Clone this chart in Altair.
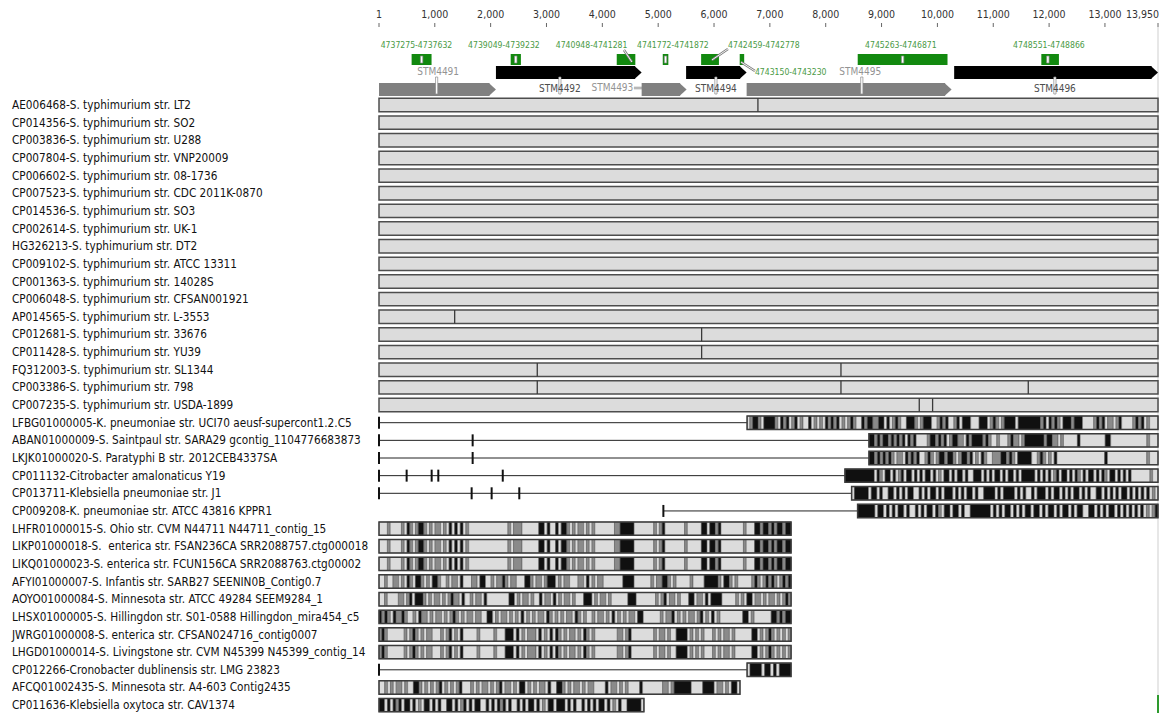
import altair as alt
import pandas as pd

FONT = "DejaVu Sans Condensed, Liberation Sans Narrow, sans-serif"

# ---------------- data ----------------
axis_ticks = [1, 1000, 2000, 3000, 4000, 5000, 6000, 7000, 8000, 9000, 10000, 11000, 12000, 13000]
axis_end = 13950
region_offset = 4736690  # genomic coordinate of position 0

labels = [
    "AE006468-S. typhimurium str. LT2",
    "CP014356-S. typhimurium str. SO2",
    "CP003836-S. typhimurium str. U288",
    "CP007804-S. typhimurium str. VNP20009",
    "CP006602-S. typhimurium str. 08-1736",
    "CP007523-S. typhimurium str. CDC 2011K-0870",
    "CP014536-S. typhimurium str. SO3",
    "CP002614-S. typhimurium str. UK-1",
    "HG326213-S. typhimurium str. DT2",
    "CP009102-S. typhimurium str. ATCC 13311",
    "CP001363-S. typhimurium str. 14028S",
    "CP006048-S. typhimurium str. CFSAN001921",
    "AP014565-S. typhimurium str. L-3553",
    "CP012681-S. typhimurium str. 33676",
    "CP011428-S. typhimurium str. YU39",
    "FQ312003-S. typhimurium str. SL1344",
    "CP003386-S. typhimurium str. 798",
    "CP007235-S. typhimurium str. USDA-1899",
    "LFBG01000005-K. pneumoniae str. UCI70 aeusf-supercont1.2.C5",
    "ABAN01000009-S. Saintpaul str. SARA29 gcontig_1104776683873",
    "LKJK01000020-S. Paratyphi B str. 2012CEB4337SA",
    "CP011132-Citrobacter amalonaticus Y19",
    "CP013711-Klebsiella pneumoniae str. J1",
    "CP009208-K. pneumoniae str. ATCC 43816 KPPR1",
    "LHFR01000015-S. Ohio str. CVM N44711 N44711_contig_15",
    "LIKP01000018-S.\u00a0 enterica str. FSAN236CA SRR2088757.ctg000018",
    "LIKQ01000023-S. enterica str. FCUN156CA SRR2088763.ctg00002",
    "AFYI01000007-S. Infantis str. SARB27 SEENIN0B_Contig0.7",
    "AOYO01000084-S. Minnesota str. ATCC 49284 SEEM9284_1",
    "LHSX01000005-S. Hillingdon str. S01-0588 Hillingdon_mira454_c5",
    "JWRG01000008-S. enterica str. CFSAN024716_contig0007",
    "LHGD01000014-S. Livingstone str. CVM N45399 N45399_contig_14",
    "CP012266-Cronobacter dublinensis str. LMG 23823",
    "AFCQ01002435-S. Minnesota str. A4-603 Contig2435",
    "CP011636-Klebsiella oxytoca str. CAV1374",
]

# fully conserved (grey) rows and the breakpoints drawn inside them
grey_rows = labels[:18]
grey_start = 1
grey_end = 13950
grey_breaks = [[6786], [], [], [], [], [], [], [], [], [], [], [], [1356], [5778], [5778],
               [2835, 8273], [2835, 8273, 11627], [9675, 9914]]

# unaligned stretches (thin line) with their tick marks
line_rows = [labels[18], labels[19], labels[20], labels[21], labels[22], labels[23], labels[32]]
line_start = [1, 1, 1, 1, 1, 5093, 1]
line_end = [6592, 8774, 8774, 8344, 8464, 8571, 6592]
line_ticks = [[1], [1, 1678], [1, 1678], [1, 496, 944, 1063, 2217], [1, 1660, 2018, 2513], [5093], [1]]

# variable (mosaic) blocks: '.' identical, 'g' some differences, 'k' many differences
P_A = "...g....g.kg.gkkg.g.gg.g.k.k.k.g..............g.ggg......kk.k..k.kkg.g.gg.g.g.......ggkkkkk.......g.gk.......g.....kk.kkgk........g...kkgkkgkgkkgkk"
P_AFYI = "..g..gg.g.kg.kkg.g.kkg..g.gg.k...gg.kk..g.ggkg.gg...kkg.gg.gkkk.g.gg...gg.k.g.gg.......kkkk......g.ggkkg.g.....g....kkkkkg.kkg.g.....gkg.gkgkg.gkgk"
P_AOYO = "..g....gg.gk.kkkg.g.gg.g.gkgg.k..g.gg.k........kk.g.gg.g..k.gg.k.g.gg.g...kkk.g.gg.g......kkk.......g.gk.gg.g...kk.gg.k.kkkk.....g.g.kk.gg.g.gg.g.gkg"
P_LHSX = "kgkg.kggkg..g.kgg.g.gg.g.gkg.g.gg.gg..kk.g.gg.g.g.k.g.g.gg.kg.g.g.gg.kg.g..g.gg.g.k.g.g.gg.kk......g.ggk.g.g.gg.gk.g.k.g........kk.g......kkgkgkk"
P_JW = "gkg......g.gkg.g.gg...g.gk.g.k.....g.....g...kkk.k.g.ggg.k.g.k.kg.g.gg.g.kg.g........gg.gk........g.gg.g..kkkk.g.g.g...g.g.gg.g......kk.g.gkg.g.g.g"
P_AFCQ = "..g.g.gg.g..kkg.g.g.gk.g.g.gk...g.g.gg.g.gk.gg.g.kk.g.g.gg.k..kkg.g.gg.g.gg....k.gg.g.g....k.......gg.gkkkkkk....kkkk.gg.g.kk."
P_KOXY = "kk.k.kgk.kk.k.g.kk.k.k..kk.k.gk.k.kk..k.k.kgk.k..k.k.kk.k.g.kk.kkk.k.k..k.k.k.kk.k.g.k..kkkkk."
P_CRONO = ".kkkk.kk.k.kkkk"
P_LFBG = ".gkkg.kkkkg.kgk.gk.g..k.g.g.kgkgk.g.gkg..kgkkggkk.k.gkg..kkkg.gkkk..gkgk..gk.kkk...kkk.gkg.gkkkk.kkkkkkkkgk.kgkg.kkkgkkk....gkgk.gg.gk....gkgk.g..."
P_ABAN = "kkgkgkkgkgkgk.kgk....gkkgkgk.gkkgg.kgkkkkgkg..g...gkgg.gkkkkkkkgkkgg.g.....k.........kk.............g..."
P_LKJK = "kkgkgkgkg.gg.kgkgk..gkg.gkkgkkg.gkkgk.g.kg..gggkkgkg.kkkkk..gkg.g.k.................k..............g..."
P_CITRO = "kkkkkkkkkkk.kg.kk.k.gk.kk.k.k.kk.k.g.kk.k.kk.k..kkk.k.k.kk.k.kk.k.kkkkk.k.k.k.gk.kk.k.kg.k.kk.k.kg.kk.k.k.k.......g.."
P_KPJ1 = ".kkkkk.kk.k..kk.k.k.kk..k.k.kk.k.kkk.k.k.kk.k..kkkk.k.kkkk.k.k..k.kkk.k.kk.k.k.kk.k.k..kk.k.k.k.kk.k.k.k.k.g."
P_KPPR1 = "kkkkkk.kk.k.k.kk.k..k.k.kk.kg.kk.kk.k..kkkkkkk.k.k.kk.k.k.kk.kk.k.kk.k.kk.k.kk..kk.k.k.kk.k.k.k.k.k.g.gk"

mosaic_rows = [labels[i] for i in [18, 19, 20, 21, 22, 23, 24, 25, 26, 27, 28, 29, 30, 31, 32, 33, 34]]
mosaic_start = [6592, 8774, 8774, 8344, 8464, 8571, 1, 1, 1, 1, 1, 1, 1, 1, 6592, 1, 1]
mosaic_end = [13950, 13950, 13950, 13950, 13950, 13950, 7380, 7380, 7380, 7380, 7380, 7380, 7380, 7380, 7380, 6465, 4745]
mosaic_pattern = [P_LFBG, P_ABAN, P_LKJK, P_CITRO, P_KPJ1, P_KPPR1, P_A, P_A, P_A, P_AFYI, P_AOYO,
                  P_LHSX, P_JW, P_JW, P_CRONO, P_AFCQ, P_KOXY]

# annotated features (green)
feat_start = [4737275, 4739049, 4740948, 4741772, 4742459, 4743150, 4745263, 4748551]
feat_end = [4737632, 4739232, 4741281, 4741872, 4742778, 4743230, 4746871, 4748866]
feat_label_at = [672, 2238, 3808, 5264, 6893, 6732, 9346, 11997]   # label anchors (bp)
feat_pin_at = [764, 2450, 5132, 9377, 11978]                       # pins inside boxes (bp)

# genes
gene_names = ["STM4491", "STM4492", "STM4493", "STM4494", "STM4495", "STM4496"]
gene_start = [1, 2095, 4704, 5500, 6584, 10300]
gene_end = [2095, 4704, 5509, 6584, 10254, 13950]
gene_strand_track = ["low", "up", "low", "up", "low", "up"]
gene_label_at = [1060, 3240, 4555, 6034, 8619, 12104]
gene_pin_at = [1033, 3240, 6034, 8646, 12104]

# ---------------- tables ----------------
shade = {".": "#dcdcdc", "g": "#8a8a8a", "k": "#101010"}
row_of = {lab: i for i, lab in enumerate(labels)}

df_labels = pd.DataFrame({"label": labels, "row": list(range(len(labels)))})
df_grey = pd.DataFrame({"row": [row_of[r] for r in grey_rows], "start": grey_start, "end": grey_end})
df_breaks = pd.DataFrame([{"row": row_of[r], "pos": p} for r, bl in zip(grey_rows, grey_breaks) for p in bl])
df_lines = pd.DataFrame({"row": [row_of[r] for r in line_rows], "start": line_start, "end": line_end})
df_lticks = pd.DataFrame([{"row": row_of[r], "pos": p} for r, tl in zip(line_rows, line_ticks) for p in tl])

cells = []
for name, s, e, pat in zip(mosaic_rows, mosaic_start, mosaic_end, mosaic_pattern):
    n = len(pat)
    w = (e - s) / n
    i = 0
    while i < n:
        j = i
        while j < n and pat[j] == pat[i]:
            j += 1
        cells.append({"row": row_of[name], "x": s + i * w, "x2": s + j * w, "col": shade[pat[i]]})
        i = j
df_cells = pd.DataFrame(cells)
df_blocks = pd.DataFrame({"row": [row_of[r] for r in mosaic_rows], "start": mosaic_start, "end": mosaic_end})

df_ticks = pd.DataFrame({"pos": axis_ticks + [axis_end]})
df_tick_lab = pd.DataFrame({"pos": axis_ticks})
df_tick_end = pd.DataFrame({"pos": [axis_end]})

df_feat = pd.DataFrame({
    "s": [v - region_offset for v in feat_start],
    "e": [v - region_offset for v in feat_end],
    "lab": [f"{a}-{b}" for a, b in zip(feat_start, feat_end)],
    "at": feat_label_at,
})
df_feat_up = df_feat.drop(index=5)
df_feat_low = df_feat.loc[[5]]
df_fpins = pd.DataFrame({"pos": feat_pin_at})

df_genes = pd.DataFrame({"name": gene_names, "s": gene_start, "e": gene_end,
                         "track": gene_strand_track, "at": gene_label_at})
df_gpins = pd.DataFrame({"pos": gene_pin_at})

# ---------------- scales ----------------
xs = alt.Scale(domain=[1, 13950], range=[371, 1150], nice=False, zero=False)
ys = alt.Scale(domain=[0, 34], range=[97, 697.1], nice=False, zero=False)


def X(f):
    return alt.X(f, type="quantitative", scale=xs, axis=None)


def Y(f):
    return alt.Y(f, type="quantitative", scale=ys, axis=None)


H = 6.7
layers = []

# axis
layers.append(alt.Chart(df_tick_lab).mark_text(font=FONT, fontSize=10.5, color="#333333", baseline="middle")
              .encode(x=X("pos"), y=alt.value(7), text=alt.Text("pos:Q", format=",")))
layers.append(alt.Chart(df_tick_end).mark_text(font=FONT, fontSize=10.5, color="#333333", baseline="middle",
                                               align="right", dx=1)
              .encode(x=X("pos"), y=alt.value(7), text=alt.Text("pos:Q", format=",")))
layers.append(alt.Chart(df_ticks).mark_rule(color="#666666", strokeWidth=1)
              .encode(x=X("pos"), y=alt.value(15), y2=alt.value(19)))
layers.append(alt.Chart(df_tick_end).mark_rule(color="#cfcfcf", strokeWidth=1)
              .encode(x=X("pos"), y=alt.value(19), y2=alt.value(705)))

# features
layers.append(alt.Chart(df_feat).mark_rect(fill="#12890f")
              .encode(x=X("s"), x2="e", y=alt.value(46), y2=alt.value(57)))
layers.append(alt.Chart(df_fpins).mark_rect(fill="#ffffff", stroke="#8a8a8a", strokeWidth=0.7,
                                            xOffset=-1.2, x2Offset=1.2)
              .encode(x=X("pos"), x2="pos", y=alt.value(48), y2=alt.value(55)))
layers.append(alt.Chart(df_feat_up).mark_text(font=FONT, fontSize=8.6, color="#4a9a45", baseline="middle")
              .encode(x=X("at"), y=alt.value(37), text="lab:N"))
layers.append(alt.Chart(df_feat_low).mark_text(font=FONT, fontSize=8.6, color="#4a9a45", baseline="middle",
                                               align="left")
              .encode(x=X("at"), y=alt.value(64), text="lab:N"))

# leader lines
leaders = [
    (4387, 4530, 42, 54),
    (6249, 5962, 41, 52),
    (6482, 6733, 54, 63),
    (4566, 4853, 80, 80),
]
for x1, x2, y1, y2 in leaders:
    d = pd.DataFrame({"a": [x1], "b": [x2]})
    layers.append(alt.Chart(d).mark_rule(color="#7a7a7a", strokeWidth=2.4)
                  .encode(x=X("a"), x2="b", y=alt.value(y1), y2=alt.value(y2)))
    layers.append(alt.Chart(d).mark_rule(color="#f4f4f4", strokeWidth=1)
                  .encode(x=X("a"), x2="b", y=alt.value(y1), y2=alt.value(y2)))

# genes
ARROW = "M-1.1,-1L0,0L-1.1,1Z"
g_low = df_genes[df_genes.track == "low"]
g_up = df_genes[df_genes.track == "up"]
layers.append(alt.Chart(g_low).mark_rect(fill="#808080", x2Offset=-6.5)
              .encode(x=X("s"), x2="e", y=alt.value(75), y2=alt.value(88)))
layers.append(alt.Chart(g_low).mark_point(shape=ARROW, size=169, filled=True, fill="#808080", opacity=1,
                                          strokeWidth=0)
              .encode(x=X("e"), y=alt.value(81.5)))
layers.append(alt.Chart(g_up).mark_rect(fill="#000000", x2Offset=-6.5)
              .encode(x=X("s"), x2="e", y=alt.value(58), y2=alt.value(71)))
layers.append(alt.Chart(g_up).mark_point(shape=ARROW, size=169, filled=True, fill="#000000", opacity=1,
                                         strokeWidth=0)
              .encode(x=X("e"), y=alt.value(64.5)))
layers.append(alt.Chart(df_gpins).mark_rect(fill="#ffffff", stroke="#8a8a8a", strokeWidth=0.7,
                                            xOffset=-1.1, x2Offset=1.1)
              .encode(x=X("pos"), x2="pos", y=alt.value(69), y2=alt.value(86)))
gl_above = df_genes[df_genes.name.isin(["STM4491", "STM4495"])]
gl_below = df_genes[df_genes.name.isin(["STM4492", "STM4494", "STM4496"])]
gl_left = df_genes[df_genes.name.isin(["STM4493"])]
layers.append(alt.Chart(gl_above).mark_text(font=FONT, fontSize=10, color="#939393", baseline="middle")
              .encode(x=X("at"), y=alt.value(64), text="name:N"))
layers.append(alt.Chart(gl_below).mark_text(font=FONT, fontSize=10, color="#4d4d4d", baseline="middle")
              .encode(x=X("at"), y=alt.value(81), text="name:N"))
layers.append(alt.Chart(gl_left).mark_text(font=FONT, fontSize=10, color="#939393", baseline="middle",
                                           align="right")
              .encode(x=X("at"), y=alt.value(80), text="name:N"))

# rows
layers.append(alt.Chart(df_labels).mark_text(font=FONT, fontSize=11.7, color="#111111", align="left",
                                             baseline="middle")
              .encode(x=alt.value(4), y=Y("row"), text="label:N"))
layers.append(alt.Chart(df_grey).mark_rect(fill="#dcdcdc", stroke="#4d4d4d", strokeWidth=1.5,
                                           yOffset=-H, y2Offset=H)
              .encode(x=X("start"), x2="end", y=Y("row"), y2="row"))
layers.append(alt.Chart(df_breaks).mark_rule(color="#3a3a3a", strokeWidth=1.3, yOffset=-H, y2Offset=H)
              .encode(x=X("pos"), y=Y("row"), y2="row"))
layers.append(alt.Chart(df_lines).mark_rule(color="#222222", strokeWidth=1)
              .encode(x=X("start"), x2="end", y=Y("row")))
layers.append(alt.Chart(df_lticks).mark_rule(color="#111111", strokeWidth=2, yOffset=-6, y2Offset=6)
              .encode(x=X("pos"), y=Y("row"), y2="row"))
layers.append(alt.Chart(df_cells).mark_rect(stroke="#555555", strokeWidth=0.5, yOffset=-H, y2Offset=H)
              .encode(x=X("x"), x2="x2", y=Y("row"), y2="row",
                      fill=alt.Fill("col:N", scale=None, legend=None)))
layers.append(alt.Chart(df_blocks).mark_rect(fillOpacity=0, stroke="#3c3c3c", strokeWidth=1.5,
                                             yOffset=-H, y2Offset=H)
              .encode(x=X("start"), x2="end", y=Y("row"), y2="row"))

# small green marker bottom right
layers.append(alt.Chart(df_tick_end).mark_rule(color="#2e9a2e", strokeWidth=2)
              .encode(x=X("pos"), y=alt.value(687), y2=alt.value(705)))

chart = (alt.layer(*layers)
         .properties(width=1151, height=705, padding=0, autosize=alt.AutoSizeParams(type="none"))
         .configure_view(stroke=None))

chart.save("out.html", embed_options={"renderer": "svg", "actions": False})
